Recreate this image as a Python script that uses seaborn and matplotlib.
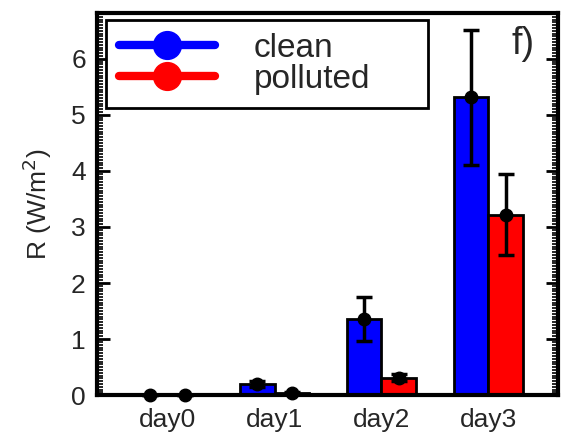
import pandas as pd
import matplotlib
matplotlib.use("Agg")
import matplotlib.pyplot as plt
from matplotlib.lines import Line2D
from matplotlib.ticker import MultipleLocator
import seaborn as sns

# data
days = ["day0", "day1", "day2", "day3"]
clean = [0.0, 0.20, 1.36, 5.31]
polluted = [0.0, 0.04, 0.31, 3.22]
clean_err = [0.0, 0.05, 0.39, 1.20]
polluted_err = [0.0, 0.02, 0.06, 0.72]
groups = ["clean", "polluted"]
colors = ["#0000FF", "#FF0000"]

sns.set_theme(style="white")
plt.rcParams["font.family"] = ["Liberation Sans", "DejaVu Sans"]

df = pd.DataFrame({
    "day": days * 2,
    "group": [groups[0]] * 4 + [groups[1]] * 4,
    "R": clean + polluted,
})

fig = plt.figure(figsize=(5.7, 4.43), dpi=100)
ax = fig.add_axes([0.170, 0.108, 0.809, 0.863])

sns.barplot(data=df, x="day", y="R", hue="group", order=days,
            hue_order=groups, palette=colors, width=0.654,
            edgecolor="black", linewidth=2, errorbar=None,
            legend=False, saturation=1, ax=ax)

# error bars + dots on the bar tops
errs = [clean_err, polluted_err]
for cont, err in zip(ax.containers, errs):
    xs = [p.get_x() + p.get_width() / 2 for p in cont.patches]
    ys = [p.get_height() for p in cont.patches]
    ax.errorbar(xs, ys, yerr=err, fmt="o", color="black", ms=9,
                elinewidth=2.5, capsize=6, capthick=2.5,
                zorder=5, clip_on=False)

ax.set_xlim(-0.66, 3.65)
ax.set_ylim(0, 6.82)
ax.yaxis.set_major_locator(MultipleLocator(1))
ax.yaxis.set_minor_locator(MultipleLocator(0.05))

for s in ax.spines.values():
    s.set_linewidth(3)
    s.set_color("black")

ax.tick_params(axis="y", which="both", direction="in", left=True,
               right=True, labelsize=19, pad=8, color="black")
ax.tick_params(axis="y", which="major", length=9, width=2)
ax.tick_params(axis="y", which="minor", length=4, width=1.2)
ax.tick_params(axis="x", length=0, labelsize=19, pad=9)

ax.set_xlabel("")
ax.set_ylabel("R (W/m$^2$)", fontsize=19, labelpad=12)

ax.text(0.924, 0.919, "f)", transform=ax.transAxes, fontsize=27,
        ha="center", va="center")

handles = [Line2D([0], [0], color=c, lw=6, marker="o", ms=20) for c in colors]
leg = ax.legend(handles, groups, loc="upper left",
                bbox_to_anchor=(0.02, 0.5, 0.698, 0.48), mode="expand",
                borderaxespad=0,
                fontsize=24, handlelength=2.9, handletextpad=1.15,
                labelspacing=0.0, borderpad=0.38, fancybox=False,
                framealpha=1, edgecolor="black")
leg.get_frame().set_linewidth(2)

fig.savefig("out.png", dpi=100)
